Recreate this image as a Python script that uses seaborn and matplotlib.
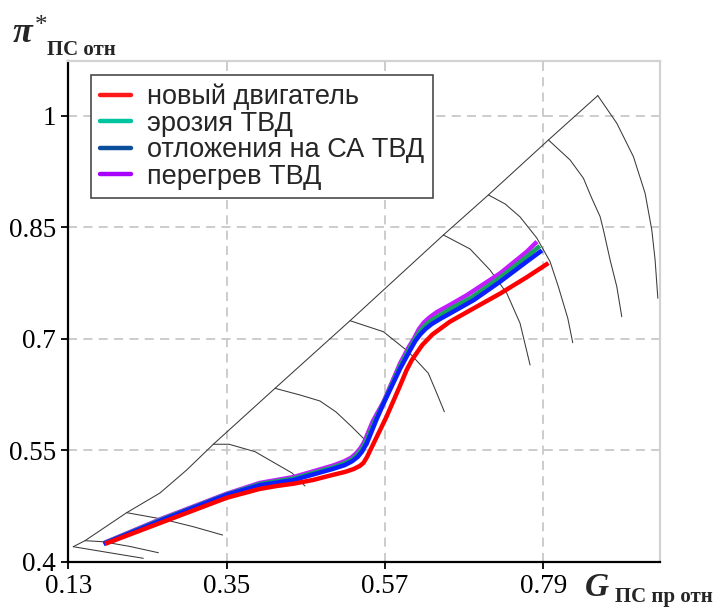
import matplotlib
matplotlib.use("Agg")
import matplotlib.pyplot as plt
from matplotlib.lines import Line2D
import pandas as pd
import seaborn as sns

# ---- operating lines of the turbine for each engine state ----
new_x = [0.181, 0.26, 0.35, 0.396, 0.42, 0.443, 0.47, 0.498, 0.515, 0.527, 0.535, 0.540,
         0.545, 0.551, 0.558, 0.572, 0.590, 0.600, 0.607, 0.614, 0.622, 0.636, 0.660,
         0.693, 0.730, 0.767, 0.797]
new_y = [0.424, 0.453, 0.486, 0.498, 0.502, 0.505, 0.510, 0.517, 0.521, 0.525, 0.529, 0.533,
         0.541, 0.553, 0.567, 0.595, 0.635, 0.658, 0.671, 0.681, 0.692, 0.706, 0.723,
         0.741, 0.761, 0.783, 0.802]

erosion_x = [0.179, 0.26, 0.35, 0.396, 0.443, 0.498, 0.514, 0.524, 0.531, 0.537, 0.543,
             0.556, 0.568, 0.591, 0.604, 0.611, 0.618, 0.625, 0.634, 0.645, 0.660, 0.690,
             0.730, 0.767, 0.785]
erosion_y = [0.4245, 0.457, 0.4905, 0.5045, 0.512, 0.527, 0.5325, 0.5375, 0.5435, 0.5505,
             0.5605, 0.590, 0.614, 0.6635, 0.687, 0.6985, 0.7095, 0.7175, 0.7245, 0.731,
             0.740, 0.7555, 0.7825, 0.8105, 0.825]

deposit_x = [0.179, 0.26, 0.35, 0.396, 0.443, 0.498, 0.514, 0.524, 0.532, 0.538, 0.545,
             0.558, 0.568, 0.591, 0.605, 0.612, 0.619, 0.626, 0.635, 0.647, 0.660, 0.693,
             0.730, 0.767, 0.788]
deposit_y = [0.424, 0.456, 0.490, 0.503, 0.510, 0.525, 0.530, 0.535, 0.541, 0.548, 0.560,
             0.591, 0.613, 0.660, 0.685, 0.697, 0.706, 0.713, 0.720, 0.727, 0.734, 0.752,
             0.777, 0.804, 0.819]

overheat_x = [0.179, 0.26, 0.35, 0.396, 0.443, 0.498, 0.513, 0.523, 0.530, 0.536, 0.541,
              0.553, 0.568, 0.591, 0.603, 0.610, 0.617, 0.624, 0.632, 0.642, 0.660, 0.684,
              0.730, 0.767, 0.781]
overheat_y = [0.425, 0.458, 0.4915, 0.506, 0.514, 0.5295, 0.535, 0.540, 0.546, 0.553, 0.561,
              0.589, 0.6154, 0.6671, 0.689, 0.700, 0.713, 0.722, 0.729, 0.736, 0.7456, 0.759,
              0.7883, 0.8173, 0.8308]

labels = ["новый двигатель", "эрозия ТВД", "отложения на СА ТВД", "перегрев ТВД"]
line_colors = ["#ff0000", "#17a35e", "#0a1eff", "#c21cff"]
legend_colors = ["#ff1a1a", "#00c4a0", "#0b4f9c", "#a800ff"]

# ---- turbine map: surge boundary and speed lines ----
surge_x = [0.1369, 0.1532, 0.2111, 0.2574, 0.2945, 0.3315, 0.4172, 0.5214,
           0.6511, 0.7136, 0.7970, 0.8656]
surge_y = [0.4202, 0.4283, 0.4660, 0.4925, 0.5235, 0.5581, 0.6334, 0.7244,
           0.8398, 0.8937, 0.9677, 1.0274]

speed_lines = [
    ([0.1369, 0.1852, 0.2342], [0.4202, 0.4124, 0.4046]),
    ([0.1532, 0.1782, 0.2157, 0.2551], [0.4283, 0.4269, 0.4205, 0.4121]),
    ([0.2111, 0.2620, 0.3037, 0.3443], [0.4660, 0.4571, 0.4471, 0.4359]),
    ([0.3315, 0.3533, 0.3894, 0.4408, 0.4589], [0.5581, 0.5581, 0.5481, 0.5194, 0.5019]),
    ([0.4172, 0.4519, 0.4797, 0.5020, 0.5242, 0.5395, 0.5464],
     [0.6334, 0.6244, 0.6163, 0.6015, 0.5813, 0.5665, 0.5571]),
    ([0.5214, 0.5677, 0.6024, 0.6302, 0.6419, 0.6524],
     [0.7244, 0.7096, 0.6827, 0.6536, 0.6267, 0.6019]),
    ([0.6511, 0.6881, 0.7159, 0.7392, 0.7576, 0.7715],
     [0.8398, 0.8210, 0.7926, 0.7613, 0.7209, 0.6648]),
    ([0.7136, 0.7368, 0.7576, 0.7808, 0.7993, 0.8108, 0.8239, 0.8308],
     [0.8937, 0.8816, 0.8641, 0.8358, 0.8039, 0.7702, 0.7277, 0.6948]),
    ([0.7970, 0.8271, 0.8456, 0.8572, 0.8688, 0.8734, 0.8827, 0.8920, 0.8989],
     [0.9677, 0.9408, 0.9162, 0.8893, 0.8645, 0.8466, 0.8062, 0.7702, 0.7298]),
    ([0.8656, 0.8920, 0.9151, 0.9313, 0.9406, 0.9452, 0.9490],
     [1.0274, 0.9902, 0.9452, 0.8960, 0.8466, 0.8062, 0.7546]),
]

x_ticks = [0.13, 0.35, 0.57, 0.79]
x_ticklabels = ["0.13", "0.35", "0.57", "0.79"]
y_ticks = [0.4, 0.55, 0.7, 0.85, 1.0]
y_ticklabels = ["0.4", "0.55", "0.7", "0.85", "1"]

sns.set_theme(style="white")
plt.rcParams["font.family"] = ["Liberation Serif", "DejaVu Serif"]

W, H = 718, 607
fig = plt.figure(figsize=(W / 100, H / 100), dpi=100)
ax = fig.add_axes([68.3 / W, (H - 561.7) / H, (660 - 68.3) / W, (561.7 - 61) / H])

ax.set_xlim(0.13, 0.952)
ax.set_ylim(0.4, 1.074)

# map grid
sns.lineplot(x=surge_x, y=surge_y, ax=ax, color="#3a3a3a", lw=0.75, sort=False,
             estimator=None)
for sx, sy in speed_lines:
    sns.lineplot(x=sx, y=sy, ax=ax, color="#3a3a3a", lw=0.75, sort=False, estimator=None)

# operating lines, drawn so the red one sits on top
series = [(overheat_x, overheat_y, 3), (erosion_x, erosion_y, 1),
          (deposit_x, deposit_y, 2), (new_x, new_y, 0)]
for xs, ys, k in series:
    df = pd.DataFrame({"G": xs, "pi": ys})
    sns.lineplot(data=df, x="G", y="pi", ax=ax, color=line_colors[k], lw=3.2,
                 sort=False, estimator=None, solid_capstyle="butt",
                 solid_joinstyle="round")

ax.set_xticks(x_ticks)
ax.set_xticklabels(x_ticklabels)
ax.set_yticks(y_ticks)
ax.set_yticklabels(y_ticklabels)
ax.set_xlabel("")
ax.set_ylabel("")
ax.grid(True, color="#c8c8c8", linestyle=(0, (5, 3.5)), linewidth=1.3)
ax.set_axisbelow(True)

for side in ("left", "bottom"):
    ax.spines[side].set_color("black")
    ax.spines[side].set_linewidth(1.6)
for side in ("top", "right"):
    ax.spines[side].set_color("#d2d2d2")
    ax.spines[side].set_linewidth(1.6)

ax.tick_params(axis="both", which="major", direction="out", length=5, width=1.3,
               color="black", labelsize=19.5, pad=4, labelcolor="black")
ax.tick_params(left=True, bottom=True, top=False, right=False)

handles = [Line2D([0], [0], color=c, lw=3.2) for c in legend_colors]
leg = ax.legend(handles, labels, loc="upper left",
                bbox_to_anchor=((91 - 68.3) / (660 - 68.3), (561.7 - 75) / (561.7 - 61)),
                borderaxespad=0, frameon=True, fancybox=False,
                prop={"family": "Liberation Sans", "size": 19.5},
                handlelength=1.15, handletextpad=0.6, borderpad=0.32,
                labelspacing=0.02)
leg.get_frame().set_edgecolor("#4a4a4a")
leg.get_frame().set_linewidth(1.2)
leg.get_frame().set_facecolor("white")
leg.get_frame().set_alpha(1)

# axis titles
fig.text(13 / W, 1 - 42 / H, "π", fontsize=26, fontweight="bold", fontstyle="italic",
         va="baseline", ha="left")
fig.text(35 / W, 1 - 15 / H, "*", fontsize=18, va="top", ha="left")
fig.text(47 / W, 1 - 55 / H, "ПС отн", fontsize=15, fontweight="bold",
         va="baseline", ha="left")
fig.text(585 / W, 1 - 596 / H, "G", fontsize=24, fontweight="bold", fontstyle="italic",
         va="baseline", ha="left")
fig.text(615 / W, 1 - 602 / H, "ПС пр отн", fontsize=15, fontweight="bold",
         va="baseline", ha="left")

fig.savefig("out.png", dpi=100)
